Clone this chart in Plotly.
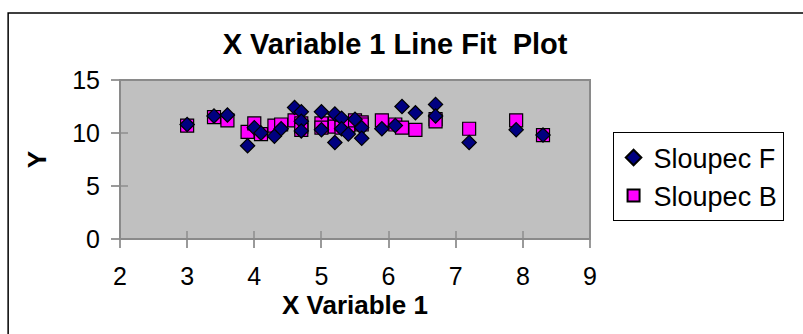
import plotly.graph_objects as go

# X Variable 1 values with the two Y series
x_vals = [3.0, 3.4, 3.6, 3.9, 4.0, 4.1, 4.3, 4.4, 4.6, 4.7, 4.7, 4.7, 5.0, 5.0, 5.2, 5.2,
          5.3, 5.3, 5.4, 5.5, 5.6, 5.6, 5.9, 6.1, 6.2, 6.4, 6.7, 6.7, 7.2, 7.9, 8.3]
sloupec_f = [10.8, 11.6, 11.7, 8.8, 10.5, 10.0, 9.7, 10.4, 12.4, 12.0, 11.1, 10.2, 12.0, 10.3, 11.8, 9.1,
             11.4, 10.4, 9.9, 11.3, 10.5, 9.5, 10.4, 10.7, 12.5, 11.9, 12.7, 11.6, 9.1, 10.3, 9.8]
sloupec_b = [10.7, 11.5, 11.2, 10.1, 10.9, 9.9, 10.7, 10.8, 11.2, 10.9, 10.6, 10.3, 10.9, 10.5, 10.9, 10.6,
             10.8, 10.5, 10.7, 11.2, 11.0, 10.8, 11.2, 10.8, 10.5, 10.3, 11.3, 11.1, 10.4, 11.2, 9.8]

x_ticks = [2, 3, 4, 5, 6, 7, 8, 9]
y_ticks = [0, 5, 10, 15]

FONT = "Liberation Sans, Arial, sans-serif"
TICK_COLOR = "#9a9a9a"

fig = go.Figure()

fig.add_trace(go.Scatter(
    x=x_vals, y=sloupec_b, mode="markers", name="Sloupec B",
    marker=dict(symbol="square", size=13, color="#FF00FF",
                line=dict(color="#000000", width=1.2)),
))
fig.add_trace(go.Scatter(
    x=x_vals, y=sloupec_f, mode="markers", name="Sloupec F",
    marker=dict(symbol="diamond", size=11, color="#000080",
                line=dict(color="#000000", width=1.2)),
))
# carrier for the inner tick marks
fig.add_trace(go.Scatter(x=[None], y=[None], xaxis="x2", yaxis="y2",
                         showlegend=False, hoverinfo="skip"))

axis_common = dict(showgrid=False, zeroline=False, tickcolor=TICK_COLOR,
                   tickwidth=1.5, ticklen=8, showline=False)

fig.update_layout(
    width=803, height=334,
    margin=dict(l=120, r=213, t=80, b=95),
    paper_bgcolor="white",
    plot_bgcolor="#C0C0C0",
    font=dict(family=FONT, color="black"),
    title=dict(text="<b>X Variable 1 Line Fit  Plot</b>", x=0.492, xanchor="center",
               y=0.87, yanchor="middle", font=dict(size=29, family=FONT)),
    xaxis=dict(range=[2, 9], tickvals=x_ticks, ticks="outside",
               tickfont=dict(size=25), ticklabelstandoff=7,
               title=dict(text="<b>X Variable 1</b>", font=dict(size=26), standoff=4),
               **axis_common),
    yaxis=dict(range=[0, 15], tickvals=y_ticks, ticks="outside",
               tickfont=dict(size=25), ticklabelstandoff=6,
               title=dict(text="<b>Y</b>", font=dict(size=26), standoff=18),
               **axis_common),
    xaxis2=dict(range=[2, 9], tickvals=x_ticks, ticks="inside", overlaying="x",
                showticklabels=False, **axis_common),
    yaxis2=dict(range=[0, 15], tickvals=y_ticks, ticks="inside", overlaying="y",
                showticklabels=False, **axis_common),
    legend=dict(x=1.048, xanchor="left", y=0.67, yanchor="top",
                bgcolor="white", bordercolor="black", borderwidth=1,
                font=dict(size=27), traceorder="reversed",
                itemsizing="constant"),
    showlegend=True,
)

# grey frame around the plot area
fig.add_shape(type="rect", xref="paper", yref="paper", x0=0, y0=0, x1=1, y1=1,
              line=dict(color="#8a8a8a", width=2), layer="above")
# outer chart frame
fig.add_shape(type="rect", xref="paper", yref="paper",
              x0=-0.238, y0=-0.62, x1=1.46, y1=1.421,
              line=dict(color="black", width=1.5), layer="above")

fig.write_html("out.html")
